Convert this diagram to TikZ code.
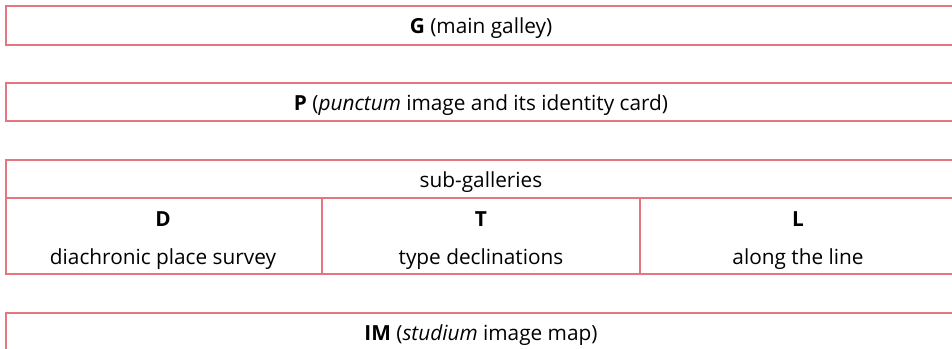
\documentclass[tikz,border=0pt]{standalone}
\usepackage{fontspec}
\setmainfont{Open Sans}
\definecolor{rose}{RGB}{228,118,128}
\begin{document}
\begin{tikzpicture}[x=1pt,y=-1pt,
  outerbox/.style={draw=rose,line width=1.6pt,fill=none},
  innerline/.style={draw=rose,line width=1.1pt},
  lbl/.style={anchor=base,inner sep=0pt,font=\fontsize{20.8}{24}\selectfont}]
\useasboundingbox (0,0) rectangle (952,348);
\clip (0,0) rectangle (952,348);
\fill[white] (0,0) rectangle (952,348);
% boxes
\draw[outerbox] (6,6) rectangle (956,45);
\coordinate (gc) at (481,33);
\node[lbl] (gt) at (gc) {\textbf{G} (main galley)};
\draw[outerbox] (6,83) rectangle (956,121);
\coordinate (pc) at (481,110);
\node[lbl] (pt) at (pc) {\textbf{P} (\textit{punctum} image and its identity card)};
% table
\coordinate (dtl) at (6,198);
\coordinate (dtr) at (956,198);
\coordinate (c1t) at (322,198);
\coordinate (c1b) at (322,274);
\coordinate (c2t) at (640,198);
\coordinate (c2b) at (640,274);
\draw[innerline] (dtl) -- (dtr);
\draw[innerline] (c1t) -- (c1b);
\draw[innerline] (c2t) -- (c2b);
\draw[outerbox] (6,160) rectangle (956,274);
\node[lbl] (sub) at (481,187) {sub-galleries};
\node[lbl] (dh) at (163,226) {\textbf{D}};
\node[lbl] (dd) at (163,264) {diachronic place survey};
\node[lbl] (th) at (481,226) {\textbf{T}};
\node[lbl] (td) at (481,264) {type declinations};
\node[lbl] (lh) at (798,226) {\textbf{L}};
\node[lbl] (ld) at (798,264) {along the line};
\draw[outerbox] (6,313) rectangle (956,352);
\node[lbl] (im) at (481,340) {\textbf{IM} (\textit{studium} image map)};
\end{tikzpicture}
\end{document}
